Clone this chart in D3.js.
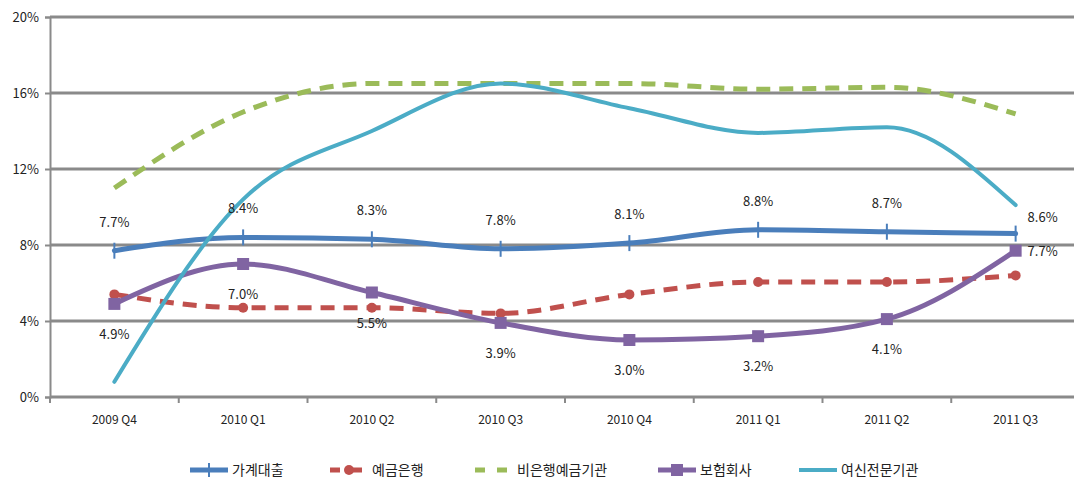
<!DOCTYPE html>
<html>
<head>
<meta charset="utf-8">
<script src="https://cdn.jsdelivr.net/npm/d3@7"></script>
<style>
body { margin: 0; background: #fff; }
text { font-family: "Noto Sans CJK KR", "Noto Sans", sans-serif; }
</style>
</head>
<body>
<svg></svg>
<script>
var quarters = ["2009 Q4", "2010 Q1", "2010 Q2", "2010 Q3", "2010 Q4", "2011 Q1", "2011 Q2", "2011 Q3"];
var yTicks = [0, 4, 8, 12, 16, 20];

var household = [7.7, 8.4, 8.3, 7.8, 8.1, 8.8, 8.7, 8.6];
var banks = [5.4, 4.7, 4.7, 4.4, 5.4, 6.05, 6.05, 6.4];
var nonBanks = [11.0, 15.0, 16.5, 16.5, 16.5, 16.2, 16.3, 14.9];
var insurers = [4.9, 7.0, 5.5, 3.9, 3.0, 3.2, 4.1, 7.7];
var creditCos = [0.8, 10.4, 14.0, 16.5, 15.2, 13.9, 14.2, 10.1];

var names = ["가계대출", "예금은행", "비은행예금기관", "보험회사", "여신전문기관"];

var drawChart = function()
{
  var screen = { width: 1074, height: 499 };
  var margins = { top: 17, left: 50 };

  var svg = d3.select('svg')
            .attr('width', screen.width)
            .attr('height', screen.height);

  var xScale = d3.scaleBand()
                .domain(quarters)
                .range([50, 1080]);
  var yScale = d3.scaleLinear()
                .domain([0, 20])
                .range([397, 17]);

  // gridlines
  svg.append('g').selectAll('line')
     .data(yTicks)
     .enter().append('line')
     .attr('x1', margins.left)
     .attr('x2', screen.width)
     .attr('y1', function(d){ return yScale(d); })
     .attr('y2', function(d){ return yScale(d); })
     .attr('stroke', '#8a8a8a')
     .attr('stroke-width', 3);

  // y axis
  var yAxis = d3.axisLeft(yScale).tickValues(yTicks)
                .tickFormat(function(d){ return d + "%"; })
                .tickSize(5);
  var yA = svg.append('g').classed('yAxis', true)
     .attr('transform', 'translate(' + margins.left + ',0)')
     .call(yAxis);
  yA.select('.domain').attr('stroke', '#8a8a8a').attr('stroke-width', 2);
  yA.selectAll('.tick line').attr('stroke', '#8a8a8a').attr('stroke-width', 2);
  yA.selectAll('text').attr('font-size', 13).attr('fill', '#222').attr('dx', -3);

  // x axis
  var xAxis = d3.axisBottom(xScale).tickSize(0).tickPadding(18);
  var xA = svg.append('g').classed('xAxis', true)
     .attr('transform', 'translate(0,397)')
     .call(xAxis);
  xA.select('.domain').remove();
  xA.selectAll('text').attr('font-size', 12).attr('fill', '#222');
  svg.append('g').selectAll('line')
     .data(quarters)
     .enter().append('line')
     .attr('x1', function(d){ return xScale(d); })
     .attr('x2', function(d){ return xScale(d); })
     .attr('y1', 397)
     .attr('y2', 403)
     .attr('stroke', '#8a8a8a')
     .attr('stroke-width', 2);

  var cx = function(d, i){ return xScale(quarters[i]) + xScale.bandwidth() / 2; };

  var series = [
    { name: names[0], values: household, color: '#4a7ebb', width: 5, dash: null, marker: 'star' },
    { name: names[1], values: banks, color: '#c0504d', width: 5, dash: '14,9', marker: 'circle' },
    { name: names[2], values: nonBanks, color: '#9bbb59', width: 5, dash: '14,9', marker: null },
    { name: names[3], values: insurers, color: '#8064a2', width: 5, dash: null, marker: 'square' },
    { name: names[4], values: creditCos, color: '#4bacc6', width: 4, dash: null, marker: null }
  ];

  var drawLine = d3.line()
                  .x(cx)
                  .y(function(d){ return yScale(d); })
                  .curve(d3.curveMonotoneX);

  var order = [2, 1, 0, 3, 4];
  order.forEach(function(k){
    var s = series[k];
    svg.append('path')
       .datum(s.values)
       .attr('d', drawLine)
       .attr('fill', 'none')
       .attr('stroke', s.color)
       .attr('stroke-width', s.width)
       .attr('stroke-dasharray', s.dash)
       .attr('stroke-linecap', s.dash ? 'butt' : 'round');
    var g = svg.append('g');
    if (s.marker == 'circle')
    {
      g.selectAll('circle').data(s.values).enter().append('circle')
       .attr('cx', cx).attr('cy', function(d){ return yScale(d); })
       .attr('r', 5).attr('fill', s.color);
    }
    else if (s.marker == 'square')
    {
      g.selectAll('rect').data(s.values).enter().append('rect')
       .attr('x', function(d, i){ return cx(d, i) - 6; })
       .attr('y', function(d){ return yScale(d) - 6; })
       .attr('width', 12).attr('height', 12).attr('fill', s.color);
    }
    else if (s.marker == 'star')
    {
      var star = d3.symbol().type(d3.symbolTimes).size(110);
      g.selectAll('path').data(s.values).enter().append('path')
       .attr('d', star)
       .attr('transform', function(d, i){ return 'translate(' + cx(d, i) + ',' + yScale(d) + ')'; })
       .attr('fill', s.color);
      g.selectAll('line').data(s.values).enter().append('line')
       .attr('x1', cx).attr('x2', cx)
       .attr('y1', function(d){ return yScale(d) - 8; })
       .attr('y2', function(d){ return yScale(d) + 8; })
       .attr('stroke', s.color).attr('stroke-width', 2);
    }
  });

  // data labels
  var labelFmt = function(d){ return d.toFixed(1) + "%"; };
  var last = quarters.length - 1;
  svg.append('g').selectAll('text')
     .data(household).enter().append('text')
     .attr('x', function(d, i){ return i == last ? cx(d, i) + 27 : cx(d, i); })
     .attr('y', function(d, i){ return i == last ? yScale(d) - 12 : yScale(d) - 24; })
     .attr('text-anchor', 'middle')
     .attr('font-size', 13).attr('fill', '#222')
     .text(labelFmt);
  svg.append('g').selectAll('text')
     .data(insurers).enter().append('text')
     .attr('x', function(d, i){ return i == last ? cx(d, i) + 27 : cx(d, i); })
     .attr('y', function(d, i){ return i == last ? yScale(d) + 5 : yScale(d) + 35; })
     .attr('text-anchor', 'middle')
     .attr('font-size', 13).attr('fill', '#222')
     .text(labelFmt);

  // legend
  var legendX = [190, 330, 475, 658, 799];
  var legend = svg.append('g').attr('transform', 'translate(0,470)');
  series.forEach(function(s, i){
    var x0 = legendX[i];
    legend.append('line')
      .attr('x1', x0).attr('x2', x0 + 38)
      .attr('y1', 0).attr('y2', 0)
      .attr('stroke', s.color).attr('stroke-width', s.width)
      .attr('stroke-dasharray', s.dash ? '10,12' : null);
    if (s.marker == 'circle')
      legend.append('circle').attr('cx', x0 + 19).attr('cy', 0).attr('r', 5).attr('fill', s.color);
    if (s.marker == 'square')
      legend.append('rect').attr('x', x0 + 13).attr('y', -6).attr('width', 12).attr('height', 12).attr('fill', s.color);
    if (s.marker == 'star')
      legend.append('line').attr('x1', x0 + 19).attr('x2', x0 + 19).attr('y1', -7).attr('y2', 7)
        .attr('stroke', s.color).attr('stroke-width', 2);
    legend.append('text')
      .attr('x', x0 + 42).attr('y', 5)
      .attr('font-size', 14).attr('fill', '#222')
      .text(s.name);
  });
};

drawChart();
</script>
</body>
</html>
